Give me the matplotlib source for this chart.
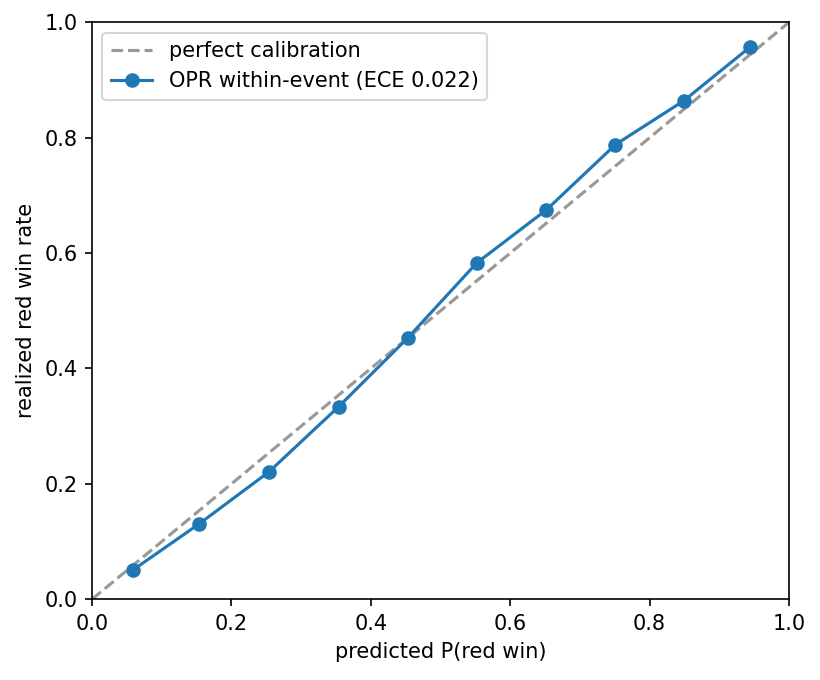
import matplotlib
matplotlib.use("Agg")
import matplotlib.pyplot as plt

pred = [0.059, 0.154, 0.254, 0.354, 0.453, 0.552, 0.652, 0.751, 0.849, 0.944]
real = [0.051, 0.131, 0.221, 0.334, 0.453, 0.583, 0.675, 0.788, 0.864, 0.957]
ece_label = "OPR within-event (ECE 0.022)"

fig = plt.figure(figsize=(820/150, 680/150), dpi=150)
ax = fig.add_axes([92/820, 1-599.3/680, 697/820, 577/680])
ax.plot([0, 1], [0, 1], linestyle="--", color="#999999", label="perfect calibration")
ax.plot(pred, real, marker="o", color="#1f77b4", label=ece_label)
ax.set_xlim(0, 1)
ax.set_ylim(0, 1)
ax.set_xlabel("predicted P(red win)")
ax.set_ylabel("realized red win rate")
ax.legend(loc="upper left")
fig.savefig("out.png", dpi=150)
